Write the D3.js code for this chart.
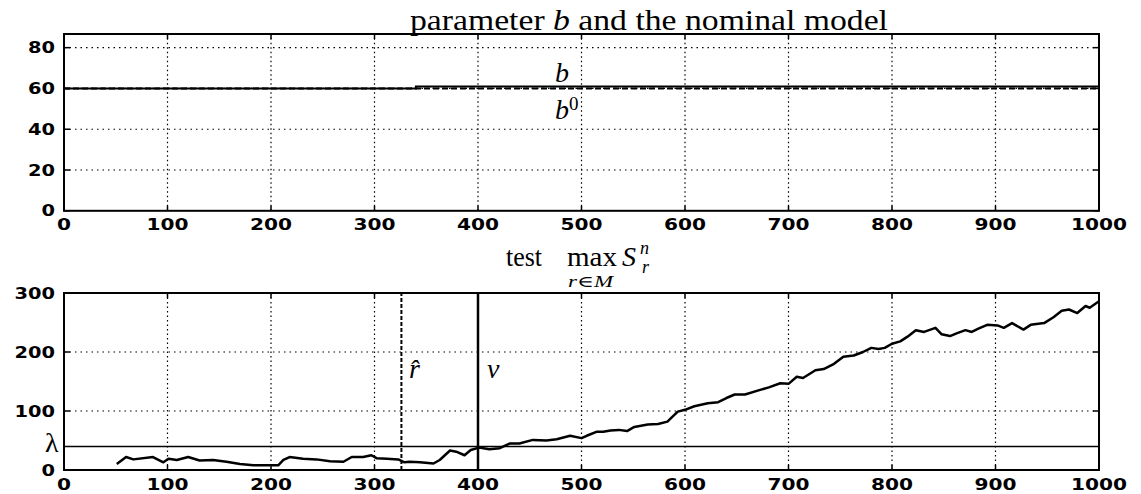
<!DOCTYPE html>
<html>
<head>
<meta charset="utf-8">
<script src="https://cdn.jsdelivr.net/npm/d3@7"></script>
<style>
  body { margin: 0; background: #fff; }
  svg { display: block; }
  .tick-label { font-family: "DejaVu Sans", sans-serif; font-weight: bold; font-size: 15px; fill: #000; }
  .serif { font-family: "Liberation Serif", "DejaVu Serif", serif; fill: #000; }
</style>
</head>
<body>
<div id="chart"></div>
<script>
// ---- data ----
var xTicks = [0, 100, 200, 300, 400, 500, 600, 700, 800, 900, 1000];
var topYTicks = [0, 20, 40, 60, 80];
var botYTicks = [0, 100, 200, 300];

// parameter b (steps up a little) and nominal b0
var b0Value = 60;
var bX = [0, 340, 340, 1000];
var bY = [60, 60, 61, 61];

// test statistic max S_r^n
var testX = [51, 60, 67, 86, 96, 101, 109, 120, 131, 144, 157, 170, 183, 196, 207, 212, 218, 231, 244, 257, 270, 278, 289, 297, 302, 312, 323, 329,
             334, 344, 357, 363, 373, 379, 387, 393, 401, 411, 421, 431, 440, 453, 466, 476, 489, 500, 505, 515, 521, 528, 536, 544, 551, 564, 574, 583,
             593, 600, 609, 622, 632, 640, 648, 658, 671, 681, 692, 700, 708, 714, 726, 734, 744, 753, 763, 772, 780, 787, 793, 800, 808, 815, 823, 831,
             842, 848, 856, 863, 871, 877, 884, 892, 902, 908, 916, 927, 934, 947, 956, 964, 971, 979, 987, 991, 1000];
var testY = [10, 22, 18, 22, 13, 19, 17, 22, 16, 17, 14, 10, 8, 8, 8, 17, 22, 19, 18, 15, 14, 22, 22, 25, 20, 19, 18, 13,
             14, 13, 11, 17, 33, 31, 25, 34, 38, 35, 37, 45, 45, 51, 50, 52, 58, 54, 58, 65, 65, 67, 68, 66, 73, 77, 78, 82,
             99, 102, 108, 113, 115, 122, 128, 128, 135, 140, 147, 146, 158, 156, 169, 171, 180, 192, 194, 200, 207, 205, 207, 214, 218, 226, 237, 234,
             241, 230, 227, 232, 237, 234, 240, 246, 245, 241, 249, 238, 246, 249, 259, 270, 272, 266, 278, 275, 286];

var lambdaValue = 40;
var rHatX = 326;
var nuX = 400;

// ---- layout ----
var width = 1141, height = 494;
var svg = d3.select("#chart").append("svg")
  .attr("width", width)
  .attr("height", height);

var x = d3.scaleLinear().domain([0, 1000]).range([64, 1099]);
var yTop = d3.scaleLinear().domain([0, 86.7]).range([210.8, 34]);
var yBot = d3.scaleLinear().domain([0, 300]).range([470, 293]);

function drawPanel(y, yTicks, xLabelBase) {
  var g = svg.append("g");
  var y0 = y.range()[0], y1 = y.range()[1];
  var x0 = x.range()[0], x1 = x.range()[1];

  // dotted grid
  g.selectAll(".gx").data(xTicks.slice(1, -1)).enter().append("line")
    .attr("x1", d => x(d)).attr("x2", d => x(d))
    .attr("y1", y0).attr("y2", y1)
    .attr("stroke", "#000").attr("stroke-width", 1.2)
    .attr("stroke-dasharray", "1.5,3");
  g.selectAll(".gy").data(yTicks.slice(1).filter(d => y(d) > y1 + 2)).enter().append("line")
    .attr("x1", x0).attr("x2", x1)
    .attr("y1", d => y(d)).attr("y2", d => y(d))
    .attr("stroke", "#000").attr("stroke-width", 1.2)
    .attr("stroke-dasharray", "1.5,4");

  // inward ticks on all sides
  xTicks.forEach(function (d) {
    g.append("line").attr("x1", x(d)).attr("x2", x(d)).attr("y1", y0).attr("y2", y0 - 5).attr("stroke", "#000").attr("stroke-width", 1.5);
    g.append("line").attr("x1", x(d)).attr("x2", x(d)).attr("y1", y1).attr("y2", y1 + 5).attr("stroke", "#000").attr("stroke-width", 1.5);
  });
  yTicks.forEach(function (d) {
    g.append("line").attr("x1", x0).attr("x2", x0 + 6).attr("y1", y(d)).attr("y2", y(d)).attr("stroke", "#000").attr("stroke-width", 1.5);
    g.append("line").attr("x1", x1).attr("x2", x1 - 6).attr("y1", y(d)).attr("y2", y(d)).attr("stroke", "#000").attr("stroke-width", 1.5);
  });

  // frame
  g.append("rect")
    .attr("x", x0).attr("y", y1)
    .attr("width", x1 - x0).attr("height", y0 - y1)
    .attr("fill", "none").attr("stroke", "#000").attr("stroke-width", 2);

  // tick labels
  g.selectAll(".xl").data(xTicks).enter().append("text")
    .attr("class", "tick-label")
    .attr("x", d => x(d)).attr("y", xLabelBase)
    .attr("text-anchor", "middle")
    .attr("textLength", d => String(d).length * 14)
    .attr("lengthAdjust", "spacingAndGlyphs")
    .text(d => d);
  g.selectAll(".yl").data(yTicks).enter().append("text")
    .attr("class", "tick-label")
    .attr("x", 55).attr("y", d => y(d) + 5.5)
    .attr("text-anchor", "end")
    .attr("textLength", d => String(d).length * 13.5)
    .attr("lengthAdjust", "spacingAndGlyphs")
    .text(d => d);
  return g;
}

// ===== top panel =====
var gTop = drawPanel(yTop, topYTicks, 230);

gTop.append("line")
  .attr("x1", x(0)).attr("x2", x(1000))
  .attr("y1", yTop(b0Value)).attr("y2", yTop(b0Value))
  .attr("stroke", "#000").attr("stroke-width", 2)
  .attr("stroke-dasharray", "6,3");

var bLine = d3.line().x(d => x(d[0])).y(d => yTop(d[1]));
gTop.append("path")
  .datum(d3.zip(bX, bY))
  .attr("d", bLine)
  .attr("fill", "none").attr("stroke", "#000").attr("stroke-width", 2);

gTop.append("text").attr("class", "serif")
  .attr("x", 410).attr("y", 30)
  .attr("font-size", 29)
  .attr("textLength", 478).attr("lengthAdjust", "spacingAndGlyphs")
  .html('parameter <tspan font-style="italic">b</tspan> and the nominal model');

gTop.append("text").attr("class", "serif")
  .attr("x", 555).attr("y", 82).attr("font-size", 28).attr("font-style", "italic")
  .text("b");
var b0Lab = gTop.append("text").attr("class", "serif")
  .attr("x", 555).attr("y", 119).attr("font-size", 28);
b0Lab.append("tspan").attr("font-style", "italic").text("b");
b0Lab.append("tspan").attr("font-size", 19).attr("dy", -9).text("0");

// ===== bottom panel =====
var gBot = drawPanel(yBot, botYTicks, 490);

gBot.append("line")
  .attr("x1", x(0)).attr("x2", x(1000))
  .attr("y1", yBot(lambdaValue)).attr("y2", yBot(lambdaValue))
  .attr("stroke", "#000").attr("stroke-width", 1.5);

gBot.append("line")
  .attr("x1", x(rHatX)).attr("x2", x(rHatX))
  .attr("y1", yBot(0)).attr("y2", yBot(300))
  .attr("stroke", "#000").attr("stroke-width", 2)
  .attr("stroke-dasharray", "4,2");

gBot.append("line")
  .attr("x1", x(nuX)).attr("x2", x(nuX))
  .attr("y1", yBot(0)).attr("y2", yBot(300))
  .attr("stroke", "#000").attr("stroke-width", 2.5);

var testLine = d3.line().x(d => x(d[0])).y(d => yBot(d[1])).curve(d3.curveLinear);
gBot.append("path")
  .datum(d3.zip(testX, testY))
  .attr("d", testLine)
  .attr("fill", "none").attr("stroke", "#000").attr("stroke-width", 2.5)
  .attr("stroke-linejoin", "round");

// labels
gBot.append("text").attr("class", "serif")
  .attr("x", 45).attr("y", 452).attr("font-size", 28)
  .text("λ");
gBot.append("text").attr("class", "serif")
  .attr("x", 409).attr("y", 378).attr("font-size", 28).attr("font-style", "italic")
  .text("r\u0302");
gBot.append("text").attr("class", "serif")
  .attr("x", 487).attr("y", 378).attr("font-size", 28).attr("font-style", "italic")
  .text("ν");

var tt = gBot.append("text").attr("class", "serif").attr("y", 266).attr("font-size", 28);
tt.append("tspan").attr("x", 506).attr("textLength", 36).attr("lengthAdjust", "spacingAndGlyphs").text("test");
tt.append("tspan").attr("x", 567).attr("textLength", 50).attr("lengthAdjust", "spacingAndGlyphs").text("max");
tt.append("tspan").attr("x", 622).attr("font-style", "italic").text("S");
gBot.append("text").attr("class", "serif").attr("x", 640).attr("y", 254).attr("font-size", 18).attr("font-style", "italic").text("n");
gBot.append("text").attr("class", "serif").attr("x", 642).attr("y", 273).attr("font-size", 18).attr("font-style", "italic").text("r");
gBot.append("text").attr("class", "serif").attr("x", 568).attr("y", 287).attr("font-size", 16).attr("font-style", "italic")
  .attr("textLength", 45).attr("lengthAdjust", "spacingAndGlyphs").text("r∈M");
</script>
</body>
</html>
